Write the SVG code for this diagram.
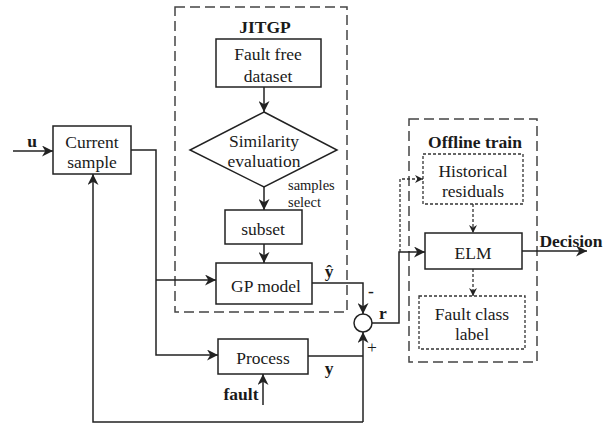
<svg xmlns="http://www.w3.org/2000/svg" width="614" height="428" viewBox="0 0 614 428" font-family="'Liberation Serif','Times New Roman','DejaVu Serif',serif">
<style>
  text{font-family:"Liberation Serif","Times New Roman","DejaVu Serif",serif;font-size:17.5px;fill:#1a1a1a;text-anchor:middle}
  .b{font-weight:bold}
  .s{font-size:14.5px;text-anchor:start}
  .box{fill:#fff;stroke:#222;stroke-width:1.5}
  .dot{fill:#fff;stroke:#333;stroke-width:1.3;stroke-dasharray:3,2}
  .dash{fill:none;stroke:#444;stroke-width:1.5;stroke-dasharray:10,5}
  .ln{fill:none;stroke:#222;stroke-width:1.5}
  .dl{fill:none;stroke:#333;stroke-width:1.3;stroke-dasharray:3,2}
</style>
<defs>
  <marker id="ah" viewBox="0 0 10 10" refX="10" refY="5" markerWidth="8" markerHeight="8" markerUnits="userSpaceOnUse" orient="auto">
    <path d="M0,0 L10,5 L0,10 L3,5 z" fill="#222"/>
  </marker>
  <marker id="ahb" viewBox="0 0 10 10" refX="10" refY="5" markerWidth="11" markerHeight="11" markerUnits="userSpaceOnUse" orient="auto">
    <path d="M0,0 L10,5 L0,10 L3,5 z" fill="#222"/>
  </marker>
</defs>
<rect width="614" height="428" fill="#fff"/>

<g id="jitgp-frame">
  <rect class="dash" x="175" y="7" width="172" height="305"/>
  <text class="b" x="265" y="33">JITGP</text>
</g>
<g id="offline-frame">
  <rect class="dash" x="409" y="119" width="128" height="243"/>
  <text class="b" x="475" y="148">Offline train</text>
</g>

<g id="connectors">
  <path class="ln" d="M13,151 H53" marker-end="url(#ahb)"/>
  <path class="ln" d="M131,150 H156 V355 H218" marker-end="url(#ahb)"/>
  <path class="ln" d="M156,280 H216" marker-end="url(#ahb)"/>
  <path class="ln" d="M264,87 V112" marker-end="url(#ahb)"/>
  <path class="ln" d="M264,187 V210" marker-end="url(#ahb)"/>
  <path class="ln" d="M264,244 V263" marker-end="url(#ahb)"/>
  <path class="ln" d="M312,283 H363 V314" marker-end="url(#ahb)"/>
  <path class="ln" d="M308,356 H363"/>
  <path class="ln" d="M363,422 V332" marker-end="url(#ahb)"/>
  <path class="ln" d="M363,422 H93 V174" marker-end="url(#ahb)"/>
  <path class="ln" d="M263,405 V374" marker-end="url(#ahb)"/>
  <path class="ln" d="M372,323 H399 V252 H425" marker-end="url(#ahb)"/>
  <path class="dl" d="M400,252 V179 H423" marker-end="url(#ah)"/>
  <path class="dl" d="M473,204 V233" marker-end="url(#ah)"/>
  <path class="dl" d="M473,269 V296" marker-end="url(#ah)"/>
  <path class="ln" d="M522,251 H587" marker-end="url(#ahb)"/>
  <text class="b" x="32" y="147">u</text>
  <text class="s" x="288" y="190">samples</text>
  <text class="s" x="288" y="207">select</text>
  <text class="b" x="329" y="277">ŷ</text>
  <text class="b" x="371" y="297">-</text>
  <text class="b" x="383" y="319">r</text>
  <text x="372" y="353">+</text>
  <text class="b" x="329" y="374">y</text>
  <text class="b" x="241" y="400">fault</text>
  <text class="b" x="571" y="247">Decision</text>
</g>

<g id="current-sample">
  <rect class="box" x="53" y="126" width="78" height="48"/>
  <text x="92" y="148">Current</text>
  <text x="92" y="168">sample</text>
</g>
<g id="fault-free-dataset">
  <rect class="box" x="216" y="39" width="105" height="48"/>
  <text x="268" y="60">Fault free</text>
  <text x="268" y="82">dataset</text>
</g>
<g id="similarity-evaluation">
  <polygon class="box" points="264,112 337,150 264,187 190,150"/>
  <text x="264" y="147">Similarity</text>
  <text x="264" y="167">evaluation</text>
</g>
<g id="subset">
  <rect class="box" x="225" y="210" width="77" height="34"/>
  <text x="263" y="235">subset</text>
</g>
<g id="gp-model">
  <rect class="box" x="216" y="263" width="96" height="41"/>
  <text x="266" y="292">GP model</text>
</g>
<g id="process">
  <rect class="box" x="218" y="339" width="90" height="35"/>
  <text x="263" y="364">Process</text>
</g>
<g id="sum">
  <circle class="box" cx="363" cy="323" r="9"/>
</g>
<g id="historical-residuals">
  <rect class="dot" x="423" y="154" width="100" height="50"/>
  <text x="473" y="177">Historical</text>
  <text x="473" y="197">residuals</text>
</g>
<g id="elm">
  <rect class="box" x="425" y="233" width="97" height="36"/>
  <text x="473" y="259">ELM</text>
</g>
<g id="fault-class-label">
  <rect class="dot" x="419" y="296" width="106" height="53"/>
  <text x="472" y="320">Fault class</text>
  <text x="472" y="340">label</text>
</g>
</svg>
